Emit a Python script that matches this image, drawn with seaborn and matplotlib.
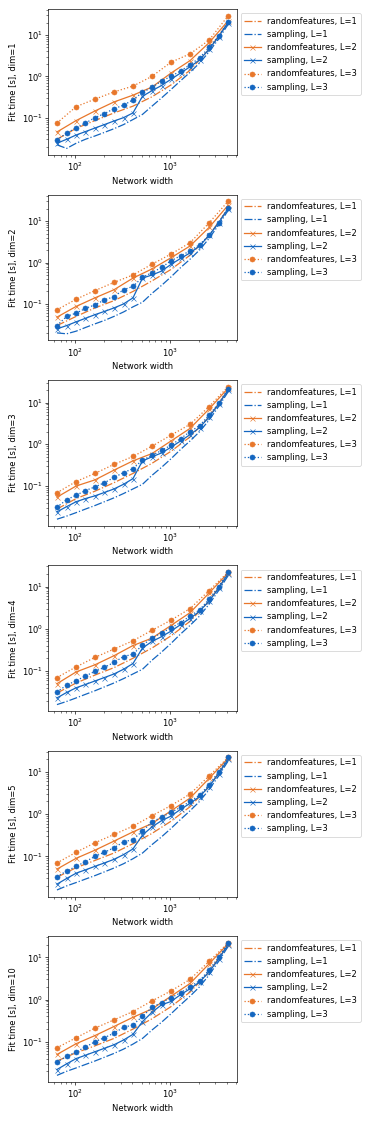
import numpy as np
import pandas as pd
import matplotlib
matplotlib.use("Agg")
import matplotlib.pyplot as plt
import seaborn as sns

widths = [64, 81, 102, 128, 161, 203, 256, 323, 406, 512, 645, 813, 1024, 1290, 1625, 2048, 2580, 3251, 4096]
widths_rf = [64, 102, 161, 256, 406, 645, 1024, 1625, 2580, 4096]
dims = [1, 2, 3, 4, 5, 10]

rf_L1 = {
    1: [0.030, 0.055, 0.085, 0.13, 0.19, 0.32, 0.62, 1.4, 4.5, 20],
    2: [0.030, 0.050, 0.080, 0.12, 0.20, 0.36, 0.68, 1.5, 4.5, 20],
    3: [0.028, 0.050, 0.075, 0.12, 0.20, 0.35, 0.68, 1.5, 4.5, 20],
    4: [0.030, 0.052, 0.080, 0.12, 0.20, 0.35, 0.68, 1.5, 4.5, 20],
    5: [0.032, 0.054, 0.080, 0.12, 0.20, 0.35, 0.68, 1.5, 4.5, 20],
    10: [0.035, 0.055, 0.080, 0.12, 0.20, 0.35, 0.68, 1.5, 4.5, 20],
}
sa_L1 = {
    1: [0.022, 0.018, 0.024, 0.030, 0.036, 0.044, 0.054, 0.068, 0.09, 0.12, 0.19, 0.30, 0.48, 0.78, 1.25, 2.1, 3.9, 8.0, 18],
    2: [0.020, 0.019, 0.022, 0.027, 0.033, 0.040, 0.050, 0.064, 0.085, 0.11, 0.18, 0.28, 0.45, 0.75, 1.2, 2.0, 3.8, 8.0, 18],
    3: [0.016, 0.019, 0.023, 0.028, 0.034, 0.042, 0.052, 0.066, 0.085, 0.11, 0.18, 0.28, 0.45, 0.75, 1.2, 2.0, 3.8, 8.0, 18],
    4: [0.016, 0.019, 0.023, 0.028, 0.034, 0.042, 0.052, 0.066, 0.085, 0.11, 0.18, 0.28, 0.45, 0.75, 1.2, 2.0, 3.8, 8.0, 18],
    5: [0.016, 0.020, 0.024, 0.029, 0.035, 0.043, 0.053, 0.067, 0.088, 0.12, 0.19, 0.29, 0.46, 0.75, 1.2, 2.0, 3.8, 8.0, 18],
    10: [0.016, 0.020, 0.024, 0.029, 0.035, 0.043, 0.053, 0.067, 0.088, 0.12, 0.19, 0.29, 0.46, 0.75, 1.2, 2.0, 3.8, 8.0, 18],
}
rf_L2 = {
    1: [0.045, 0.085, 0.145, 0.24, 0.35, 0.55, 1.2, 2.4, 6.5, 22],
    2: [0.048, 0.087, 0.140, 0.22, 0.42, 0.70, 1.3, 2.5, 7.0, 24],
    3: [0.054, 0.100, 0.140, 0.24, 0.40, 0.60, 1.2, 2.4, 7.0, 22],
    4: [0.050, 0.095, 0.140, 0.23, 0.40, 0.60, 1.2, 2.4, 7.0, 21],
    5: [0.050, 0.090, 0.140, 0.23, 0.38, 0.60, 1.2, 2.4, 7.0, 21],
    10: [0.050, 0.090, 0.140, 0.23, 0.38, 0.60, 1.2, 2.4, 7.0, 21],
}
sa_L2 = {
    1: [0.024, 0.030, 0.038, 0.046, 0.056, 0.068, 0.083, 0.10, 0.13, 0.33, 0.45, 0.60, 0.85, 1.2, 1.7, 2.5, 4.5, 9.0, 20],
    2: [0.025, 0.030, 0.037, 0.045, 0.055, 0.066, 0.080, 0.10, 0.14, 0.42, 0.50, 0.62, 0.90, 1.25, 1.7, 2.5, 4.5, 9.0, 20],
    3: [0.024, 0.032, 0.042, 0.050, 0.058, 0.070, 0.085, 0.11, 0.15, 0.40, 0.50, 0.62, 0.85, 1.2, 1.7, 2.5, 4.5, 9.0, 20],
    4: [0.023, 0.031, 0.040, 0.048, 0.058, 0.070, 0.085, 0.11, 0.15, 0.35, 0.50, 0.65, 0.88, 1.25, 1.75, 2.6, 4.5, 9.0, 20],
    5: [0.022, 0.030, 0.040, 0.048, 0.058, 0.070, 0.085, 0.11, 0.15, 0.32, 0.50, 0.70, 0.90, 1.3, 1.8, 2.6, 4.5, 9.0, 20],
    10: [0.022, 0.030, 0.040, 0.048, 0.058, 0.070, 0.085, 0.11, 0.15, 0.30, 0.50, 0.75, 0.90, 1.3, 1.8, 2.6, 4.5, 9.0, 20],
}
rf_L3 = {
    1: [0.074, 0.185, 0.28, 0.42, 0.58, 1.00, 2.2, 3.5, 7.5, 29],
    2: [0.072, 0.130, 0.21, 0.33, 0.50, 0.91, 1.6, 3.0, 9.0, 30],
    3: [0.069, 0.128, 0.20, 0.33, 0.51, 0.90, 1.66, 3.0, 8.0, 24],
    4: [0.070, 0.125, 0.21, 0.33, 0.52, 0.92, 1.6, 3.0, 8.0, 22],
    5: [0.070, 0.125, 0.21, 0.33, 0.52, 0.92, 1.6, 3.0, 8.0, 22],
    10: [0.072, 0.125, 0.21, 0.33, 0.52, 0.93, 1.6, 3.0, 8.0, 22],
}
sa_L3 = {
    1: [0.029, 0.042, 0.057, 0.074, 0.10, 0.125, 0.165, 0.20, 0.27, 0.41, 0.54, 0.77, 1.00, 1.35, 1.9, 2.8, 5.0, 9.5, 21],
    2: [0.030, 0.050, 0.060, 0.078, 0.095, 0.125, 0.150, 0.22, 0.265, 0.44, 0.57, 0.76, 1.10, 1.45, 1.9, 2.7, 4.5, 9.0, 21],
    3: [0.031, 0.047, 0.060, 0.078, 0.095, 0.120, 0.160, 0.21, 0.26, 0.42, 0.54, 0.71, 0.95, 1.37, 2.0, 2.8, 5.0, 9.5, 21],
    4: [0.032, 0.046, 0.059, 0.076, 0.098, 0.122, 0.160, 0.22, 0.25, 0.41, 0.60, 0.80, 1.05, 1.40, 2.0, 2.8, 5.0, 10, 22],
    5: [0.033, 0.045, 0.058, 0.075, 0.10, 0.125, 0.160, 0.22, 0.25, 0.40, 0.65, 0.85, 1.10, 1.45, 2.0, 2.8, 5.0, 10, 22],
    10: [0.033, 0.045, 0.058, 0.075, 0.10, 0.125, 0.160, 0.22, 0.25, 0.40, 0.65, 0.85, 1.10, 1.45, 2.0, 2.8, 5.0, 10, 22],
}

ORANGE = "#e8772b"
BLUE = "#1466c0"

dpi = 60
fig, axes = plt.subplots(6, 1, figsize=(374 / dpi, 1121 / dpi), dpi=dpi)
fig.subplots_adjust(left=48.4 / 374, right=236.6 / 374, top=1 - 9.3 / 1121,
                    bottom=1 - 1082 / 1121, hspace=0.272)

for ax, d in zip(axes, dims):
    series = [
        (widths_rf, rf_L1[d], ORANGE, "-.", None, "randomfeatures, L=1"),
        (widths, sa_L1[d], BLUE, "-.", None, "sampling, L=1"),
        (widths_rf, rf_L2[d], ORANGE, "-", "x", "randomfeatures, L=2"),
        (widths, sa_L2[d], BLUE, "-", "x", "sampling, L=2"),
        (widths_rf, rf_L3[d], ORANGE, ":", "o", "randomfeatures, L=3"),
        (widths, sa_L3[d], BLUE, ":", "o", "sampling, L=3"),
    ]
    for xs, ys, c, ls, mk, lab in series:
        df = pd.DataFrame({"x": xs, "y": ys})
        sns.lineplot(data=df, x="x", y="y", ax=ax, color=c, linestyle=ls,
                     marker=mk, markeredgecolor=c, label=lab, linewidth=1.5,
                     markersize=6, legend="brief")
    ax.set_xscale("log")
    ax.set_yscale("log")
    ax.set_xlabel("Network width")
    ax.set_ylabel(f"Fit time [s], dim={d}")
    ax.legend(loc="upper left", bbox_to_anchor=(1.0, 1.0))

fig.savefig("out.png", dpi=dpi)
